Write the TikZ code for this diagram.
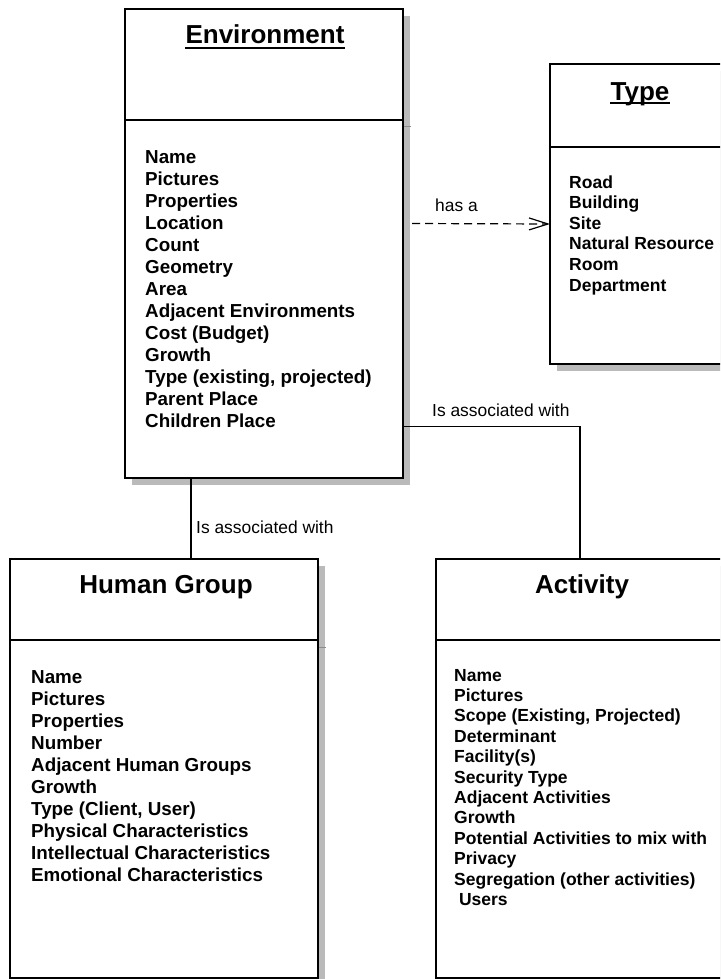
\documentclass[tikz,border=0pt]{standalone}
\usepackage{fontspec}
\setmainfont{Liberation Sans}
\usetikzlibrary{shadows,arrows.meta}

\tikzset{
  classbox/.style={draw=black, line width=2.4pt, fill=white, anchor=north west,
    inner sep=0pt, outer sep=0pt,
    drop shadow={shadow xshift=7pt, shadow yshift=-7pt, fill=black!27, opacity=1}},
  divider/.style={line width=2.2pt},
  dividershade/.style={draw=black!45, line width=1pt},
  classtitle/.style={anchor=base, inner sep=0pt, font=\fontsize{26}{30}\selectfont\bfseries},
  titlerule/.style={line width=1.6pt},
  bigitem/.style={anchor=base west, inner sep=0pt, font=\fontsize{18.8}{22}\selectfont\bfseries},
  smallitem/.style={anchor=base west, inner sep=0pt, font=\fontsize{17.5}{20}\selectfont\bfseries},
  linklabel/.style={anchor=base west, inner sep=0pt, font=\fontsize{17.4}{20}\selectfont},
  link/.style={line width=1.2pt},
  dependency/.style={line width=1.2pt, dash pattern=on 8pt off 5pt,
    -{Straight Barb[length=19pt, width=12pt, line width=1.2pt]}}
}

\begin{document}
\begin{tikzpicture}[x=1pt, y=-1pt]
  \useasboundingbox (0,0) rectangle (720,979);
  \clip (0,0) rectangle (720,979);
  \fill[white] (0,0) rectangle (720,979);

  % class boxes
  \node[classbox, minimum width=278pt, minimum height=469pt] (env) at (125,9) {};
  \node[classbox, minimum width=200pt, minimum height=300pt] (type) at (550,64) {};
  \node[classbox, minimum width=308pt, minimum height=419pt] (hg) at (10,559) {};
  \node[classbox, minimum width=288pt, minimum height=419pt] (act) at (436,559) {};

  % compartment dividers
  \draw[divider] (env.west |- 0,120) -- (env.east |- 0,120);
  \draw[dividershade] ([xshift=1pt]env.east |- 0,127) -- ([xshift=8pt]env.east |- 0,127);
  \draw[divider] (type.west |- 0,147) -- (type.east |- 0,147);
  \draw[divider] (hg.west |- 0,640) -- (hg.east |- 0,640);
  \draw[dividershade] ([xshift=1pt]hg.east |- 0,647) -- ([xshift=8pt]hg.east |- 0,647);
  \draw[divider] (act.west |- 0,640) -- (act.east |- 0,640);

  % class names
  \node[classtitle] (envtitle) at (265,44) {Environment};
  \draw[titlerule] ([yshift=-4pt]envtitle.base west) -- ([yshift=-4pt]envtitle.base east);
  \node[classtitle] (typetitle) at (640,101) {Type};
  \draw[titlerule] ([yshift=-2pt]typetitle.base west) -- ([yshift=-2pt]typetitle.base east);
  \node[classtitle] (hgtitle) at (166,593) {Human Group};
  \node[classtitle] (acttitle) at (582,593) {Activity};

  % attributes
  \foreach \t [count=\i] in {Name, Pictures, Properties, Location, Count, Geometry, Area,
      Adjacent Environments, Cost (Budget), Growth, {Type (existing, projected)},
      Parent Place, Children Place}
    \node[bigitem] (envattr\i) at (145,{163+22*(\i-1)}) {\t};

  \foreach \t [count=\i] in {Road, Building, Site, Natural Resource, Room, Department}
    \node[smallitem] (typeattr\i) at (569,{188+20.6*(\i-1)}) {\t};

  \foreach \t [count=\i] in {Name, Pictures, Properties, Number, Adjacent Human Groups,
      Growth, {Type (Client, User)}, Physical Characteristics,
      Intellectual Characteristics, Emotional Characteristics}
    \node[bigitem] (hgattr\i) at (31,{683+22*(\i-1)}) {\t};

  \foreach \t [count=\i] in {Name, Pictures, {Scope (Existing, Projected)}, Determinant,
      Facility(s), Security Type, Adjacent Activities, Growth,
      Potential Activities to mix with, Privacy, Segregation (other activities), {\ Users}}
    \node[smallitem] (actattr\i) at (454,{681+20.4*(\i-1)}) {\t};

  % relationships
  \draw[dependency] ([shift={(9pt,20pt)}]env.east) -- ([yshift=-10pt]type.west);
  \node[linklabel] (hasa) at (435,211) {has a};

  \draw[link] ([xshift=66pt]env.south west) -- ([xshift=66pt]env.south west |- hg.north);
  \node[linklabel] (assochg) at (196,533) {Is associated with};

  \draw[link] ([yshift=-183pt]env.east) -| (act.north);
  \node[linklabel] (assocact) at (432,416) {Is associated with};
\end{tikzpicture}
\end{document}
